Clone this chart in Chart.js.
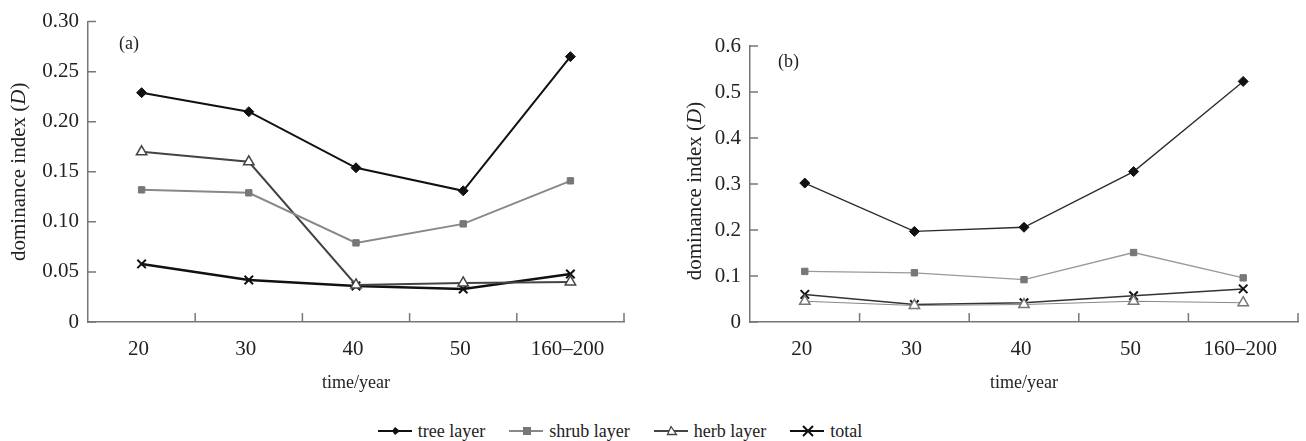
<!DOCTYPE html>
<html>
<head>
<meta charset="utf-8">
<script src="https://cdn.jsdelivr.net/npm/chart.js@4.4.1/dist/chart.umd.min.js"></script>
<style>
  body { margin: 0; background: #fff; width: 1306px; height: 441px; position: relative; overflow: hidden; font-family: "Liberation Serif", "DejaVu Serif", serif; }
  canvas { position: absolute; top: 0; }
  #legend { position: absolute; left: 0; top: 420px; width: 1240px; height: 22px; display: flex; justify-content: center; align-items: center; font-size: 18px; color: #222; }
  #legend span.item { display: flex; align-items: center; margin: 0 12px; }
  #legend svg { margin-right: 6px; }
</style>
</head>
<body>
<canvas id="chartA" width="650" height="400" style="left:0"></canvas>
<canvas id="chartB" width="656" height="400" style="left:650px"></canvas>
<div id="legend"></div>
<script>
// categories
const years = ['20', '30', '40', '50', '160–200'];

// (a) dominance index
const treeA  = [0.229, 0.210, 0.154, 0.131, 0.265];
const shrubA = [0.132, 0.129, 0.079, 0.098, 0.141];
const herbA  = [0.170, 0.160, 0.037, 0.039, 0.040];
const totalA = [0.058, 0.042, 0.036, 0.033, 0.048];

// (b) dominance index
const treeB  = [0.302, 0.197, 0.206, 0.327, 0.523];
const shrubB = [0.110, 0.107, 0.092, 0.151, 0.096];
const herbB  = [0.045, 0.036, 0.038, 0.045, 0.042];
const totalB = [0.060, 0.038, 0.042, 0.057, 0.072];

// y axis ranges (min, max, step)
const yRangeA = [0, 0.30, 0.05];
const yRangeB = [0, 0.6, 0.1];

const seriesNames = ['tree layer', 'shrub layer', 'herb layer', 'total'];

const axisColor = '#777';
const textColor = '#222';
const serif = '"Liberation Serif", "DejaVu Serif", serif';

// inward tick marks, panel label and y title with italic D
const decor = {
    id: 'decor',
    afterDraw(chart, args, opts) {
        const { ctx, chartArea: a, scales: { x, y } } = chart;
        ctx.save();
        ctx.strokeStyle = axisColor;
        ctx.lineWidth = 1.5;
        ctx.beginPath();
        y.ticks.forEach((t, i) => {
            const py = y.getPixelForTick(i);
            ctx.moveTo(a.left, py);
            ctx.lineTo(a.left + 8, py);
        });
        const n = x.ticks.length;
        for (let i = 1; i <= n; i++) {
            const px = a.left + (a.right - a.left) * i / n;
            ctx.moveTo(px, a.bottom);
            ctx.lineTo(px, a.bottom - 9);
        }
        ctx.stroke();

        ctx.fillStyle = textColor;
        ctx.font = '18px ' + serif;
        ctx.textBaseline = 'middle';
        ctx.fillText(opts.label, opts.labelX, opts.labelY);

        // y title
        const parts = [['dominance index (', ''], ['D', 'italic '], [')', '']];
        let total = 0;
        const widths = parts.map(p => {
            ctx.font = p[1] + '21px ' + serif;
            const w = ctx.measureText(p[0]).width;
            total += w;
            return w;
        });
        ctx.translate(opts.titleX, (a.top + a.bottom) / 2 + opts.titleDy);
        ctx.rotate(-Math.PI / 2);
        let cx = -total / 2;
        parts.forEach((p, i) => {
            ctx.font = p[1] + '21px ' + serif;
            ctx.fillText(p[0], cx, 0);
            cx += widths[i];
        });
        ctx.restore();
    }
};

function makeDatasets(vals, thin) {
    const lw = thin ? 1.3 : 2;
    return [
        { label: seriesNames[0], data: vals[0], borderColor: thin ? '#2a2a2a' : '#111', backgroundColor: '#111',
          borderWidth: lw, pointStyle: 'rectRot', pointRadius: 5, pointBorderWidth: 1, pointBorderColor: '#111' },
        { label: seriesNames[1], data: vals[1], borderColor: thin ? '#999' : '#888', backgroundColor: '#777',
          borderWidth: lw, pointStyle: 'rect', pointRadius: 4.5, pointBorderWidth: 1, pointBorderColor: '#777' },
        { label: seriesNames[2], data: vals[2], borderColor: thin ? '#888' : '#444', backgroundColor: '#fff',
          borderWidth: thin ? 1.1 : 2, pointStyle: 'triangle', pointRadius: 6, pointBorderWidth: 1.5,
          pointBorderColor: thin ? '#777' : '#444' },
        { label: seriesNames[3], data: vals[3], borderColor: thin ? '#333' : '#111', backgroundColor: '#111',
          borderWidth: thin ? 1.5 : 2.5, pointStyle: 'crossRot', pointRadius: 6, pointBorderWidth: 2, pointBorderColor: '#111' }
    ];
}

function makeChart(id, vals, range, fixed, panel, thin) {
    return new Chart(document.getElementById(id), {
        type: 'line',
        data: { labels: years, datasets: makeDatasets(vals, thin) },
        options: {
            responsive: false,
            animation: false,
            devicePixelRatio: 1,
            layout: { padding: { left: 0, right: fixed.right, top: fixed.top, bottom: 0 } },
            elements: { line: { tension: 0 } },
            plugins: {
                legend: { display: false },
                tooltip: { enabled: false },
                decor: panel
            },
            scales: {
                x: {
                    offset: true,
                    grid: { display: false, drawTicks: false },
                    border: { display: true, color: axisColor, width: 1.5 },
                    ticks: { color: textColor, font: { family: serif, size: 21 }, padding: 15, maxRotation: 0, labelOffset: -3 },
                    title: { display: true, text: 'time/year', color: textColor, font: { family: serif, size: 18 },
                             padding: { top: 4, bottom: 6 } },
                    afterFit: s => { s.height = 78; }
                },
                y: {
                    min: range[0], max: range[1],
                    grid: { display: false, drawTicks: false },
                    border: { display: true, color: axisColor, width: 1.5 },
                    ticks: {
                        stepSize: range[2], color: textColor, padding: 9,
                        font: { family: serif, size: 21 },
                        callback: v => v === 0 ? '0' : v.toFixed(fixed.digits)
                    },
                    afterFit: s => { s.width = fixed.left; }
                }
            }
        },
        plugins: [decor]
    });
}

makeChart('chartA', [treeA, shrubA, herbA, totalA], yRangeA,
    { left: 88, right: 26, top: 20, digits: 2 },
    { label: '(a)', labelX: 119, labelY: 44, titleX: 19, titleDy: 0 }, false);

makeChart('chartB', [treeB, shrubB, herbB, totalB], yRangeB,
    { left: 100, right: 8, top: 46, digits: 1 },
    { label: '(b)', labelX: 128, labelY: 62, titleX: 45, titleDy: 7 }, true);

// legend
const icons = [
    '<polygon points="18,2 22,6 18,10 14,6" fill="#111"/>',
    '<rect x="14" y="2" width="8" height="8" fill="#777"/>',
    '<polygon points="18,1.5 22.5,9.5 13.5,9.5" fill="#fff" stroke="#444" stroke-width="1.3"/>',
    '<path d="M13,1 L23,11 M23,1 L13,11" stroke="#111" stroke-width="2"/>'
];
const iconLines = ['#111', '#888', '#444', '#111'];
document.getElementById('legend').innerHTML = seriesNames.map((name, i) =>
    '<span class="item"><svg width="34" height="12"><line x1="0" y1="6" x2="34" y2="6" stroke="' + iconLines[i] +
    '" stroke-width="2"/>' + icons[i].replace(/18/g, '17') + '</svg>' + name + '</span>').join('');
</script>
</body>
</html>
